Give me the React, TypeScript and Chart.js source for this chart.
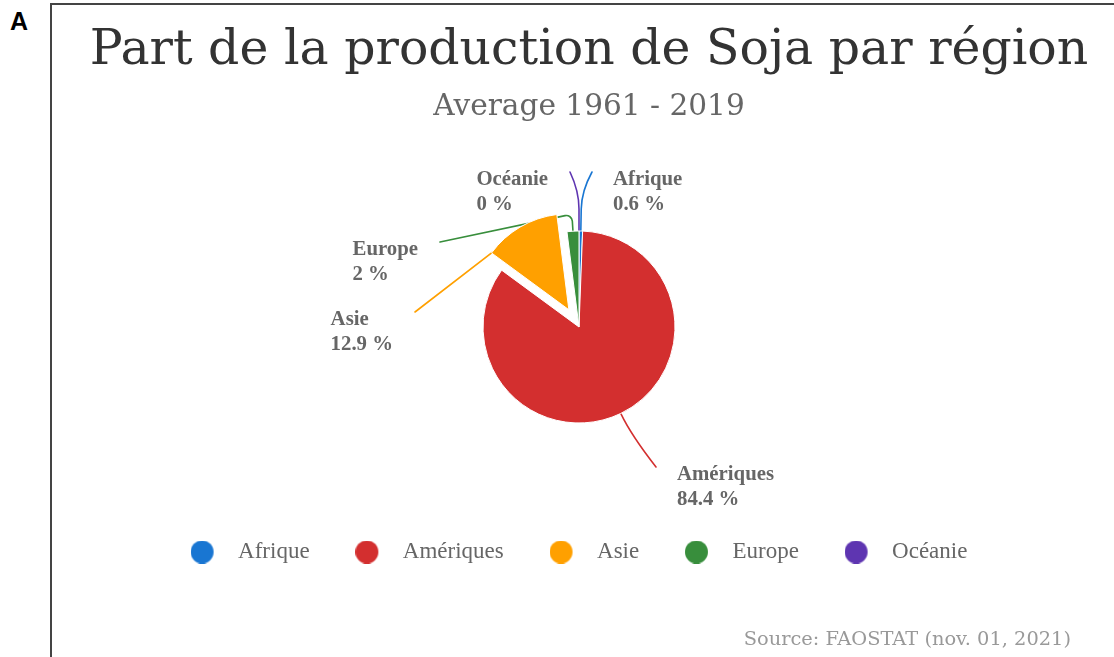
import React, { useEffect, useRef } from 'react';
import { Chart, registerables, layouts } from 'chart.js';

Chart.register(...registerables);

// ---- data ----
const REGIONS = ['Afrique', 'Amériques', 'Asie', 'Europe', 'Océanie'];
const SHARES = [0.6, 84.4, 12.9, 2, 0];
const TITLE = 'Part de la production de Soja par région';
const SUBTITLE = 'Average 1961 - 2019';
const SOURCE = 'Source: FAOSTAT (nov. 01, 2021)';

// ---- styles ----
const COLORS = ['#1976D2', '#D32F2F', '#FFA000', '#388E3C', '#5E35B1'];
const EXPLODE = [0, 0, 20, 0, 0];
// leader layout per slice: start inset, radial elbow length, end point relative to pie centre, bend style
const LEADERS = [
  { inset: 0, elbow: 40, dx: 13, dy: -155, curve: 'quad', round: 18 },
  { inset: 0, elbow: 25, dx: 77, dy: 140, curve: 'quad', round: 25 },
  { inset: 3, elbow: 0, dx: -164, dy: -15, curve: 'line', round: 0 },
  { inset: 0, elbow: 17, dx: -139, dy: -85, curve: 'arc', round: 6 },
  { inset: 0, elbow: 40, dx: -9, dy: -155, curve: 'quad', round: 18 },
];

const makeDot = (color: string) => {
  const c = document.createElement('canvas');
  c.width = 36;
  c.height = 23;
  const g = c.getContext('2d')!;
  g.fillStyle = color;
  g.beginPath();
  g.arc(11.5, 11.5, 11.5, 0, Math.PI * 2);
  g.fill();
  return c;
};

const spacerPlugin = {
  id: 'rightSpacer',
  beforeInit(chart: any) {
    if (chart.$spacer) return;
    const box: any = {
      position: 'right',
      weight: 100,
      fullSize: false,
      options: {},
      width: 0,
      height: 0,
      left: 0,
      top: 0,
      right: 0,
      bottom: 0,
      isHorizontal() {
        return false;
      },
      update(_w: number, h: number) {
        this.width = 20;
        this.height = h;
      },
      draw() {},
    };
    layouts.addBox(chart, box);
    chart.$spacer = box;
  },
};

const explodePlugin = {
  id: 'explode',
  afterDatasetUpdate(chart: any, args: any) {
    const meta = chart.getDatasetMeta(args.index);
    meta.data.forEach((arc: any, i: number) => {
      const d = EXPLODE[i];
      if (!d) return;
      const mid = (arc.startAngle + arc.endAngle) / 2;
      arc.x += Math.cos(mid) * d;
      arc.y += Math.sin(mid) * d;
    });
  },
};

const leaderPlugin = {
  id: 'leaders',
  beforeDatasetsDraw(chart: any) {
    const meta = chart.getDatasetMeta(0);
    const ca = chart.chartArea;
    const cx = (ca.left + ca.right) / 2;
    const cy = (ca.top + ca.bottom) / 2;
    const ctx = chart.ctx;
    ctx.save();
    ctx.lineWidth = 1.6;
    ctx.lineJoin = 'round';
    ctx.lineCap = 'round';
    meta.data.forEach((arc: any, i: number) => {
      const L = LEADERS[i];
      const { x, y, startAngle, endAngle, outerRadius } = arc;
      const mid = (startAngle + endAngle) / 2;
      const ux = Math.cos(mid);
      const uy = Math.sin(mid);
      const r = outerRadius;
      const ex = cx + L.dx;
      const ey = cy + L.dy;
      ctx.strokeStyle = COLORS[i];
      ctx.beginPath();
      ctx.moveTo(x + ux * (r - L.inset), y + uy * (r - L.inset));
      const px = x + ux * (r + L.elbow);
      const py = y + uy * (r + L.elbow);
      if (L.curve === 'quad') {
        ctx.lineTo(x + ux * (r + L.elbow - L.round), y + uy * (r + L.elbow - L.round));
        ctx.quadraticCurveTo(px, py, ex, ey);
      } else if (L.curve === 'arc') {
        ctx.arcTo(px, py, ex, ey, L.round);
        ctx.lineTo(ex, ey);
      } else {
        ctx.lineTo(ex, ey);
      }
      ctx.stroke();
    });
    ctx.restore();
  },
  afterDatasetsDraw(chart: any) {
    const ca = chart.chartArea;
    const cx = (ca.left + ca.right) / 2;
    const cy = (ca.top + ca.bottom) / 2;
    const ctx = chart.ctx;
    ctx.save();
    ctx.font = 'bold 20.8px "Liberation Serif"';
    ctx.fillStyle = '#666';
    ctx.textAlign = 'left';
    ctx.textBaseline = 'alphabetic';
    REGIONS.forEach((name, i) => {
      const L = LEADERS[i];
      const ex = cx + L.dx;
      const ey = cy + L.dy;
      const lines = [name, `${SHARES[i]} %`];
      const w = Math.max(...lines.map((t) => ctx.measureText(t).width));
      const left = L.dx >= 0 ? ex + 21 : ex - 22 - w;
      ctx.fillText(lines[0], left, ey + 12.5);
      ctx.fillText(lines[1], left, ey + 37.5);
    });
    ctx.restore();
  },
  afterDraw(chart: any) {
    const ctx = chart.ctx;
    ctx.save();
    ctx.font = '19.4px "DejaVu Serif"';
    ctx.fillStyle = '#999';
    ctx.textAlign = 'right';
    ctx.textBaseline = 'middle';
    ctx.fillText(SOURCE, chart.width - 43, chart.height - 17);
    ctx.restore();
  },
};

export default function App() {
  const ref = useRef<HTMLCanvasElement>(null);

  useEffect(() => {
    const dots = COLORS.map(makeDot);
    const chart = new Chart(ref.current as HTMLCanvasElement, {
      type: 'pie',
      data: {
        labels: REGIONS,
        datasets: [
          {
            data: SHARES,
            backgroundColor: COLORS,
            borderColor: '#fff',
            borderWidth: 1,
            radius: 96,
          } as any,
        ],
      },
      options: {
        responsive: false,
        animation: false,
        events: [],
        layout: { padding: { left: 12, right: 0, top: 0, bottom: 83.5 } },
        plugins: {
          title: {
            display: true,
            text: TITLE,
            color: '#333',
            font: { family: 'DejaVu Serif', size: 48.9, weight: 'normal' },
            padding: { top: 18.06, bottom: 8.96 },
          },
          subtitle: {
            display: true,
            text: SUBTITLE,
            color: '#666',
            font: { family: 'DejaVu Serif', size: 29.6, weight: 'normal' },
            padding: { top: 0, bottom: 34.03 },
          },
          legend: {
            display: true,
            position: 'bottom',
            fullSize: false,
            labels: {
              usePointStyle: true,
              pointStyleWidth: 36,
              boxHeight: 23,
              padding: 45.75,
              color: '#666',
              font: { family: 'Liberation Serif', size: 23 },
              generateLabels: () =>
                REGIONS.map((name, i) => ({
                  text: name,
                  fillStyle: COLORS[i],
                  strokeStyle: COLORS[i],
                  lineWidth: 0,
                  pointStyle: dots[i],
                  fontColor: '#666',
                  hidden: false,
                  index: i,
                })) as any,
            },
          },
          tooltip: { enabled: false },
        },
      } as any,
      plugins: [spacerPlugin, explodePlugin, leaderPlugin],
    });
    return () => chart.destroy();
  }, []);

  return (
    <div
      style={{
        position: 'fixed',
        left: 0,
        top: 0,
        width: 1114,
        height: 657,
        background: '#fff',
        overflow: 'hidden',
      }}
    >
      <div
        style={{
          position: 'absolute',
          left: 10,
          top: 9,
          font: 'bold 25px "Liberation Sans", Arial, sans-serif',
          lineHeight: '25px',
          color: '#000',
        }}
      >
        A
      </div>
      <div style={{ position: 'absolute', left: 50, top: 3, width: 2, height: 654, background: '#444' }} />
      <div style={{ position: 'absolute', left: 50, top: 3, width: 1064, height: 1.5, background: '#444' }} />
      <canvas ref={ref} width={1062} height={653} style={{ position: 'absolute', left: 52, top: 4 }} />
    </div>
  );
}
